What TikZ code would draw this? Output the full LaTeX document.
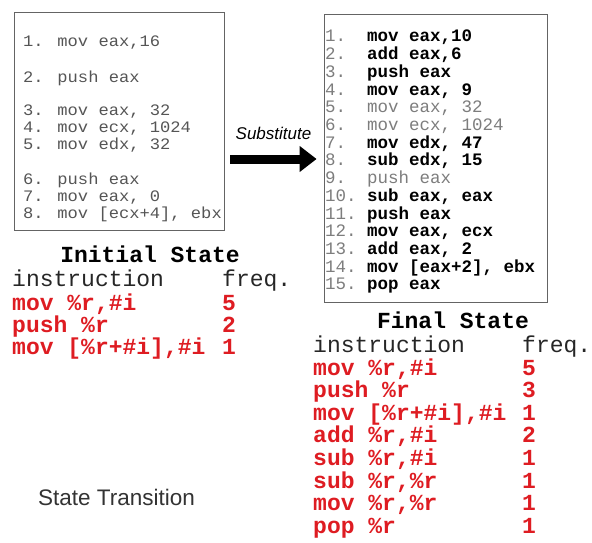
\documentclass[tikz,border=0pt]{standalone}
\usepackage{fontspec}
\setmainfont{Liberation Sans}
\setmonofont{Liberation Mono}
\newfontfamily\widemono[FakeStretch=1.07]{Liberation Mono}
\usetikzlibrary{positioning,arrows.meta}
\definecolor{codegray}{RGB}{85,85,85}
\definecolor{numgray}{RGB}{125,125,125}
\definecolor{boxgray}{RGB}{100,100,100}
\definecolor{freqred}{RGB}{222,28,34}
\newcommand{\linenum}[1]{\makebox[42pt][l]{\color{numgray}\mdseries #1}}
\begin{document}
\begin{tikzpicture}
	 [scale =1]
	\tikzset{every node/.style={inner sep=0pt,anchor=base west}}
	\tikzstyle{codebox}=[rectangle,draw=boxgray,line width=0.8pt,anchor=center]
	\tikzstyle{oldline}=[font=\widemono\fontsize{16}{15}\selectfont,text=codegray]
	\tikzstyle{newline}=[font=\ttfamily\bfseries\fontsize{17.5}{15}\selectfont,text=black]
	\tikzstyle{keptline}=[font=\ttfamily\fontsize{17.5}{15}\selectfont,text=numgray]
	\tikzstyle{title}=[font=\ttfamily\bfseries\fontsize{23}{25}\selectfont,anchor=base]
	\tikzstyle{header}=[font=\ttfamily\fontsize{23}{25}\selectfont,text=black!85]
	\tikzstyle{freq}=[font=\ttfamily\bfseries\fontsize{23}{25}\selectfont,text=freqred]
	\tikzstyle{subarrow}=[line width=9pt,-{Triangle[length=17pt,width=25pt]}]
	\useasboundingbox (0 pt,0 pt) rectangle (592 pt,-543 pt);
	% initial program
	\node [codebox,minimum width=210 pt,minimum height=218 pt] (lbox) at (119.0 pt,-121.0 pt) {};
	\node [oldline] (l1) at (23.0 pt,-47.0 pt) {1. mov eax,16};
	\node [oldline] (l2) at (23.0 pt,-82.0 pt) {2. push eax};
	\node [oldline] (l3) at (23.0 pt,-115.0 pt) {3. mov eax, 32};
	\node [oldline] (l4) at (23.0 pt,-132.0 pt) {4. mov ecx, 1024};
	\node [oldline] (l5) at (23.0 pt,-149.0 pt) {5. mov edx, 32};
	\node [oldline] (l6) at (23.0 pt,-184.0 pt) {6. push eax};
	\node [oldline] (l7) at (23.0 pt,-201.0 pt) {7. mov eax, 0};
	\node [oldline] (l8) at (23.0 pt,-218.0 pt) {8. mov [ecx+4], ebx};
	% substituted program
	\node [codebox,minimum width=223 pt,minimum height=288 pt] (rbox) at (435.5 pt,-158.0 pt) {};
	\node [newline] (r1) at (325.0 pt,-42.0 pt) {\linenum{1.}mov eax,10};
	\node [newline] (r2) at (325.0 pt,-59.7 pt) {\linenum{2.}add eax,6};
	\node [newline] (r3) at (325.0 pt,-77.4 pt) {\linenum{3.}push eax};
	\node [newline] (r4) at (325.0 pt,-95.1 pt) {\linenum{4.}mov eax, 9};
	\node [keptline] (r5) at (325.0 pt,-112.8 pt) {\linenum{5.}mov eax, 32};
	\node [keptline] (r6) at (325.0 pt,-130.5 pt) {\linenum{6.}mov ecx, 1024};
	\node [newline] (r7) at (325.0 pt,-148.2 pt) {\linenum{7.}mov edx, 47};
	\node [newline] (r8) at (325.0 pt,-165.9 pt) {\linenum{8.}sub edx, 15};
	\node [keptline] (r9) at (325.0 pt,-183.6 pt) {\linenum{9.}push eax};
	\node [newline] (r10) at (325.0 pt,-201.3 pt) {\linenum{10.}sub eax, eax};
	\node [newline] (r11) at (325.0 pt,-219.0 pt) {\linenum{11.}push eax};
	\node [newline] (r12) at (325.0 pt,-236.7 pt) {\linenum{12.}mov eax, ecx};
	\node [newline] (r13) at (325.0 pt,-254.4 pt) {\linenum{13.}add eax, 2};
	\node [newline] (r14) at (325.0 pt,-272.1 pt) {\linenum{14.}mov [eax+2], ebx};
	\node [newline] (r15) at (325.0 pt,-289.8 pt) {\linenum{15.}pop eax};
	% the substitution
	\draw [subarrow] ([xshift=6pt,yshift=-38pt]lbox.east) -- node [anchor=south,above=14.5pt,font=\itshape\fontsize{17}{19}\selectfont] (subst) {Substitute} ([xshift=-7pt,yshift=-1pt]rbox.west);
	% initial state table
	\node [title] (ititle) at (150.0 pt,-262.0 pt) {Initial State};
	\node [header] (ih) at (12.0 pt,-286.0 pt) {instruction};
	\node [header] (ihf) at (222.0 pt,-286.0 pt) {freq.};
	\node [freq] (i1) at (12.0 pt,-310.0 pt) {mov \%r,\#i};
	\node [freq] (if1) at (222.0 pt,-310.0 pt) {5};
	\node [freq] (i2) at (12.0 pt,-332.0 pt) {push \%r};
	\node [freq] (if2) at (222.0 pt,-332.0 pt) {2};
	\node [freq] (i3) at (12.0 pt,-354.0 pt) {mov [\%r+\#i],\#i};
	\node [freq] (if3) at (222.0 pt,-354.0 pt) {1};
	% final state table
	\node [title] (ftitle) at (453.0 pt,-328.0 pt) {Final State};
	\node [header] (fh) at (313.0 pt,-352.0 pt) {instruction};
	\node [header] (fhf) at (522.0 pt,-352.0 pt) {freq.};
	\node [freq] (f1) at (313.0 pt,-375.0 pt) {mov \%r,\#i};
	\node [freq] (ff1) at (522.0 pt,-375.0 pt) {5};
	\node [freq] (f2) at (313.0 pt,-397.6 pt) {push \%r};
	\node [freq] (ff2) at (522.0 pt,-397.6 pt) {3};
	\node [freq] (f3) at (313.0 pt,-420.2 pt) {mov [\%r+\#i],\#i};
	\node [freq] (ff3) at (522.0 pt,-420.2 pt) {1};
	\node [freq] (f4) at (313.0 pt,-442.8 pt) {add \%r,\#i};
	\node [freq] (ff4) at (522.0 pt,-442.8 pt) {2};
	\node [freq] (f5) at (313.0 pt,-465.4 pt) {sub \%r,\#i};
	\node [freq] (ff5) at (522.0 pt,-465.4 pt) {1};
	\node [freq] (f6) at (313.0 pt,-488.0 pt) {sub \%r,\%r};
	\node [freq] (ff6) at (522.0 pt,-488.0 pt) {1};
	\node [freq] (f7) at (313.0 pt,-510.6 pt) {mov \%r,\%r};
	\node [freq] (ff7) at (522.0 pt,-510.6 pt) {1};
	\node [freq] (f8) at (313.0 pt,-533.2 pt) {pop \%r};
	\node [freq] (ff8) at (522.0 pt,-533.2 pt) {1};
	% caption
	\node [font=\fontsize{22.5}{25}\selectfont,text=black!80] (caption) at (38.0 pt,-505.0 pt) {State Transition};
\end{tikzpicture}
\end{document}
